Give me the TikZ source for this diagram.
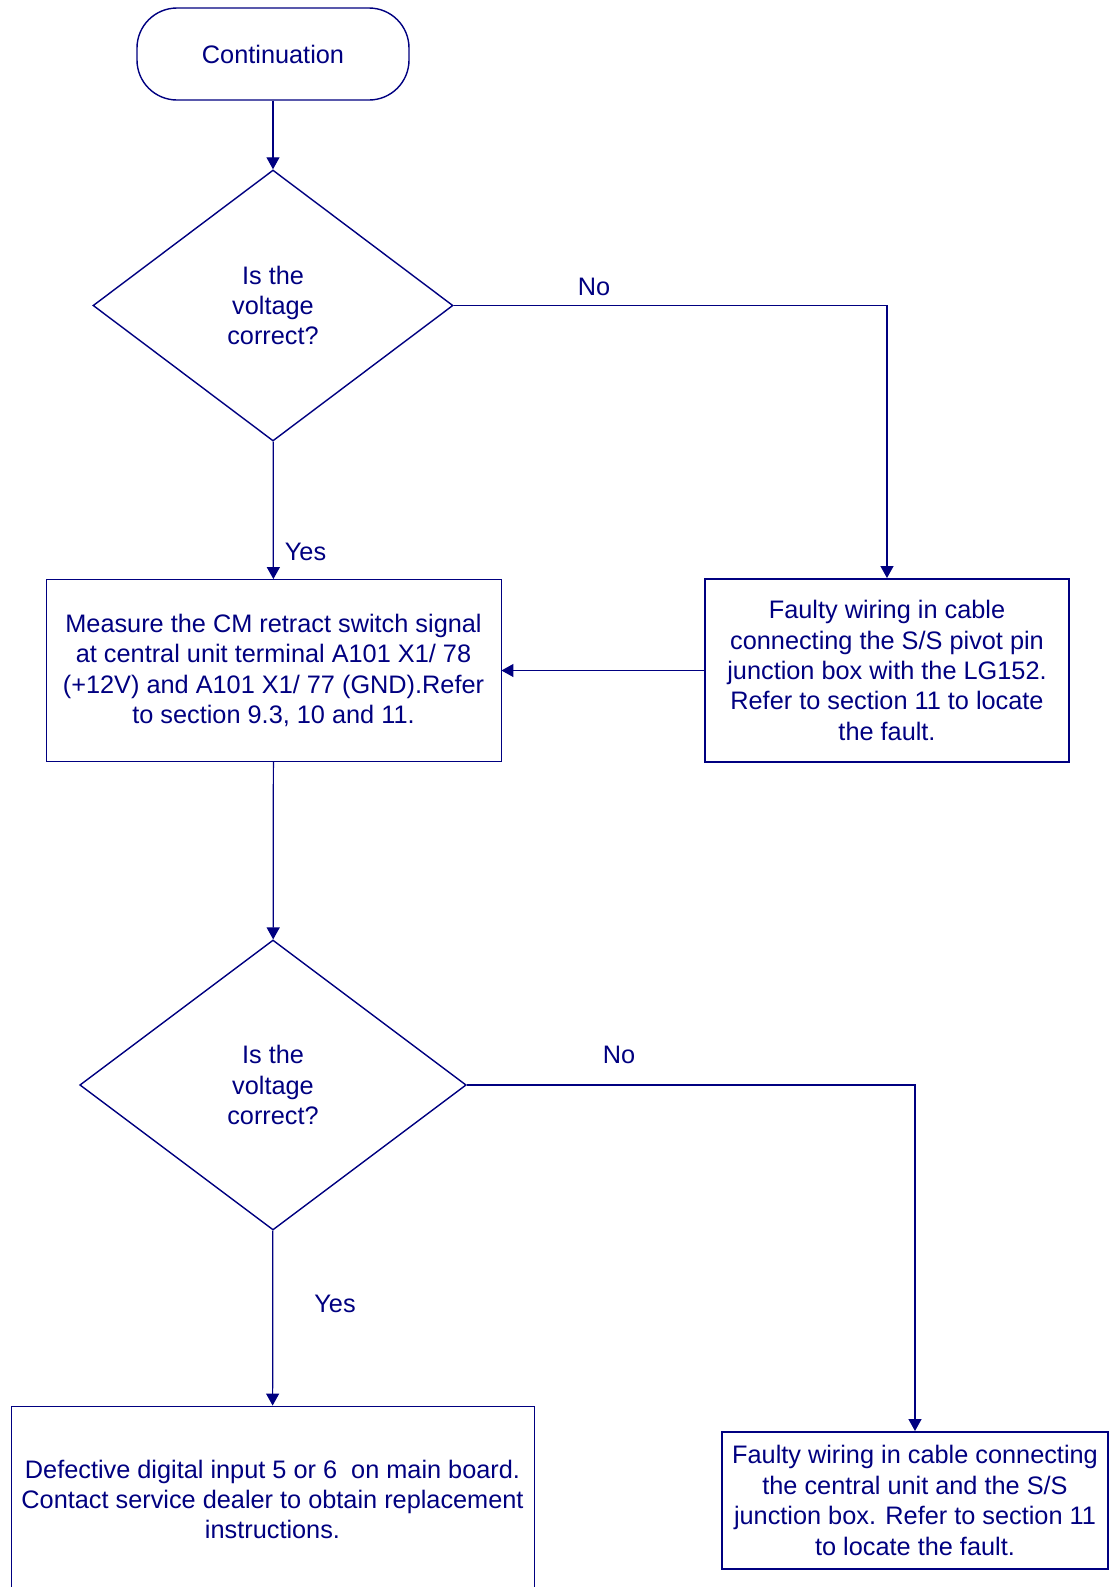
\documentclass[tikz,border=0pt]{standalone}
\usepackage{fontspec}
\setmainfont{Liberation Sans}
\usetikzlibrary{arrows.meta,positioning,shapes.geometric}
\definecolor{navy}{RGB}{0,0,128}
\tikzset{
  >={Triangle[length=2.4mm,width=2.6mm]},
  every node/.style={font=\fontsize{14.4}{17.3}\selectfont,text=navy,align=center},
  term/.style={draw=navy,line width=0.8pt,rounded corners=0.8cm,
    minimum width=5.44cm,minimum height=1.84cm},
  decide/.style={diamond,draw=navy,line width=0.8pt,inner sep=0pt},
  stepbox/.style={draw=navy,line width=0.5pt,inner sep=2pt},
  faultbox/.style={draw=navy,line width=1.1pt,inner sep=2pt},
  flow/.style={->,draw=navy,line width=0.7pt},
  lbl/.style={inner sep=1pt}
}
\begin{document}
\begin{tikzpicture}
  \useasboundingbox (0,0) rectangle (22.24,-31.74);
  \node[term] (start) at (5.46,-1.08) {Continuation};
  \node[decide,minimum width=7.2cm,minimum height=5.42cm] (volt1) at (5.46,-6.11) {Is the\\voltage\\correct?};
  \node[stepbox,minimum width=9.1cm,minimum height=3.64cm] (measure) at (5.47,-13.41)
    {Measure the CM retract switch signal\\at central unit terminal A101 X1/ 78\\(+12V) and A101 X1/ 77 (GND).Refer\\to section 9.3, 10 and 11.};
  \node[faultbox,minimum width=7.28cm,minimum height=3.66cm] (pivot) at (17.74,-13.41)
    {Faulty wiring in cable\\connecting the S/S pivot pin\\junction box with the LG152.\\Refer to section 11 to locate\\the fault.};
  \node[decide,minimum width=7.73cm,minimum height=5.8cm] (volt2) at (5.46,-21.7) {Is the\\voltage\\correct?};
  \node[stepbox,minimum width=10.46cm,minimum height=3.74cm] (board) at (5.45,-29.99)
    {Defective digital input 5 or 6\ \ on main board.\\Contact service dealer to obtain replacement\\instructions.};
  \node[faultbox,minimum width=7.72cm,minimum height=2.74cm] (junction) at (18.3,-30.01)
    {Faulty wiring in cable connecting\\the central unit and the S/S\\junction box. Refer to section 11\\to locate the fault.};
  % answers
  \node[lbl] (no1) at (11.88,-5.74) {No};
  \node[lbl] (yes1) at (6.11,-11.04) {Yes};
  \node[lbl] (no2) at (12.38,-21.1) {No};
  \node[lbl] (yes2) at (6.7,-26.08) {Yes};
  \draw[flow] (start) -- (volt1);
  \draw[flow] (volt1) -- (measure);
  \draw[flow] (volt1.east) -| (pivot.north);
  \draw[flow] (pivot.west) -- (measure.east);
  \draw[flow] (measure) -- (volt2);
  \draw[flow] (volt2.east) -| (junction.north);
  \draw[flow] (volt2) -- (board);
\end{tikzpicture}
\end{document}
